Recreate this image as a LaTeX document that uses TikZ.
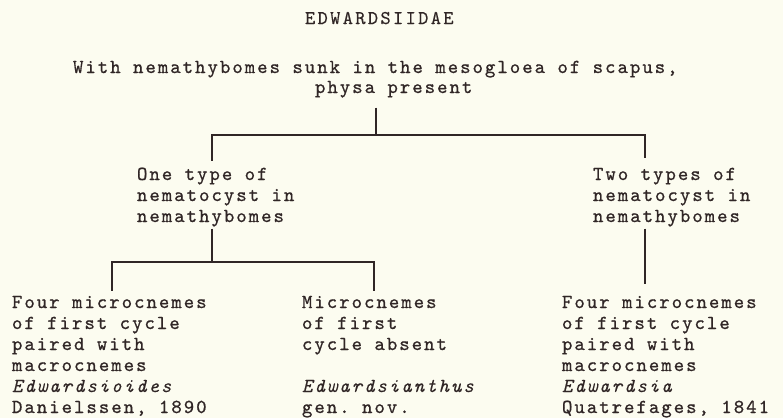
\documentclass[tikz,border=0pt]{standalone}
\usepackage{fontspec}
\setmonofont{lmmono10-regular.otf}[ItalicFont=lmmono10-italic.otf, LetterSpace=10.2, FakeBold=0.8, ItalicFeatures={FakeBold=0.2}]
\newfontfamily\titlefont{lmmono10-regular.otf}[LetterSpace=12, FakeBold=0.4]
\usetikzlibrary{calc}
\definecolor{paper}{RGB}{252,252,240}
\definecolor{ink}{RGB}{48,38,38}
\newcommand\twfont{\ttfamily\fontsize{19.8}{21}\selectfont\frenchspacing}
\newcommand\tifont{\titlefont\fontsize{19.5}{21}\selectfont}
\begin{document}
\begin{tikzpicture}[x=1pt,y=-1pt,
  lbl/.style={inner sep=0pt, outer sep=0pt, align=left, anchor=base west, font=\twfont, text=ink},
  conn/.style={draw=ink, line width=1.8pt, line join=miter}]
\useasboundingbox (0,0) rectangle (783,418);
\fill[paper] (0,0) rectangle (783,418);
% texts (base anchor = baseline of the last line)
\node[lbl, anchor=base west, font=\tifont] (fam) at (305,24) {EDWARDSIIDAE};
\node[lbl] (top) at (73,73) {With nemathybomes sunk in the mesogloea of scapus,};
\node[lbl] (top2) at (315,93) {physa present};
\node[lbl] (one) at (137,222) {One type of\\nematocyst in\\nemathybomes};
\node[lbl] (two) at (593,222) {Two types of\\nematocyst in\\nemathybomes};
\node[lbl] (a) at (12,413) {Four microcnemes\\of first cycle\\paired with\\macrocnemes\\\textit{Edwardsioides}\\Danielssen, 1890};
\node[lbl] (b) at (302,413) {Microcnemes\\of first\\cycle absent\\[21pt]\textit{Edwardsianthus}\\gen. nov.};
\node[lbl] (c) at (562,413) {Four microcnemes\\of first cycle\\paired with\\macrocnemes\\\textit{Edwardsia}\\Quatrefages, 1841};
% junctions
\coordinate (j1) at (376,135);
\coordinate (jL) at (212,135);
\coordinate (jR) at (645,135);
\coordinate (jLL) at (212,262);
\coordinate (ja) at (112,262);
\coordinate (jb) at (374,262);
% connectors
\draw[conn] ($(top2.south -| j1)+(0,10)$) -- (j1);
\draw[conn] ($(one.north -| jL)+(0,-7)$) -- (jL) -- (jR) -- ($(two.north -| jR)+(0,-10)$);
\draw[conn] ($(one.south -| jLL)+(0,2)$) -- (jLL);
\draw[conn] ($(a.north -| ja)+(0,-5)$) -- (ja) -- (jb) -- ($(b.north -| jb)+(0,-5)$);
\draw[conn] ($(two.south -| jR)+(0,2)$) -- ($(c.north -| jR)+(0,-12)$);
\end{tikzpicture}
\end{document}
